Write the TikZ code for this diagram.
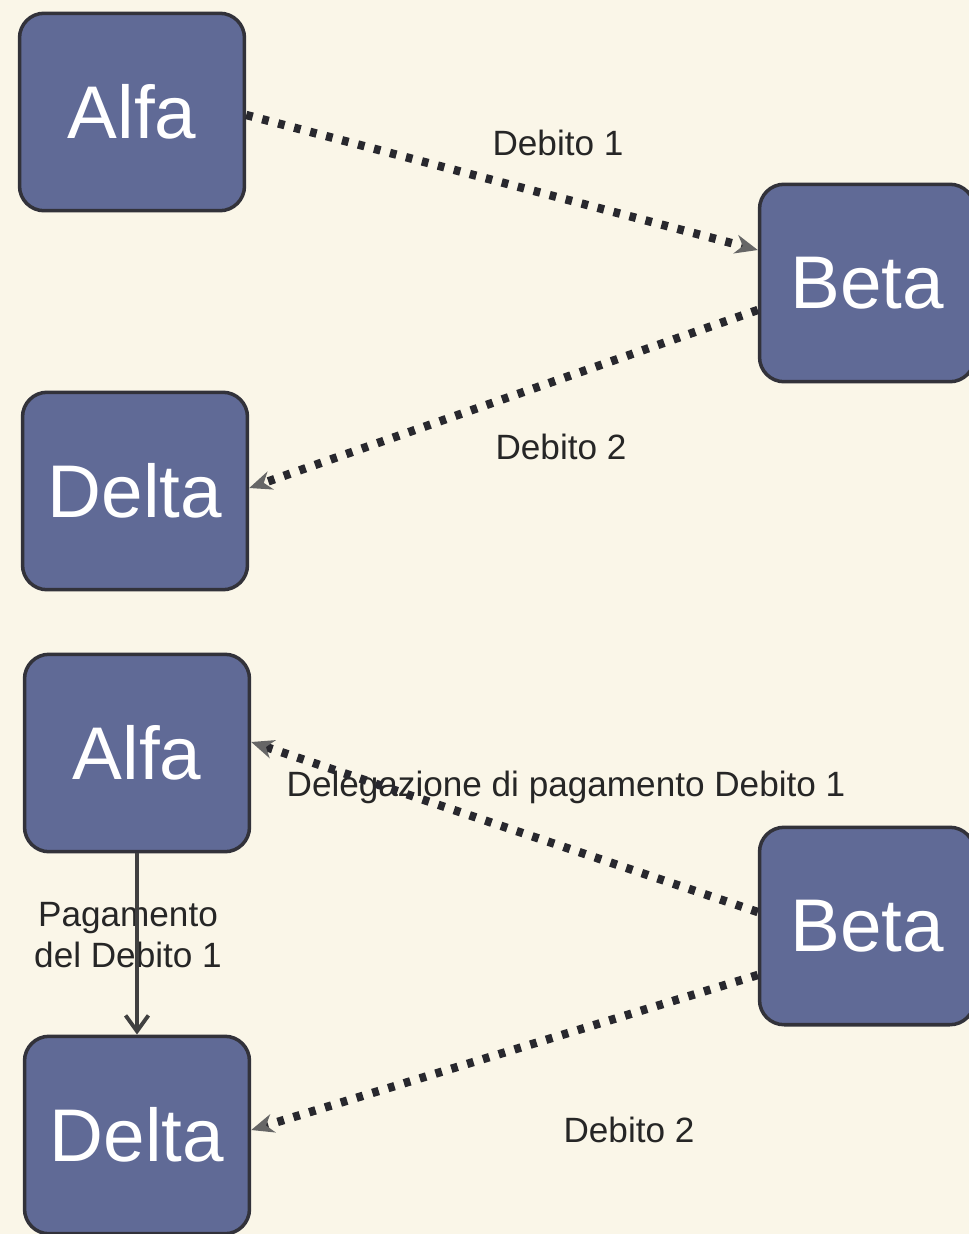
\documentclass[tikz,border=0pt]{standalone}
\usepackage{fontspec}
\setmainfont{Liberation Sans}
\usetikzlibrary{arrows.meta}
\definecolor{carta}{RGB}{250,246,232}
\definecolor{ardesia}{RGB}{96,106,150}
\definecolor{bordo}{RGB}{50,50,58}
\definecolor{puntini}{RGB}{40,40,46}

\begin{document}
\begin{tikzpicture}[x=0.02cm, y=-0.02cm,
    soggetto/.style={draw=bordo, line width=2pt, fill=ardesia, rounded corners=14pt,
        minimum width=4.5cm, minimum height=3.95cm, text=white,
        font=\fontsize{42.5}{46}\selectfont},
    etichetta/.style={text=black!85, font=\fontsize{20}{23}\selectfont},
    debito/.style={draw=puntini, line width=4.8pt, dash pattern=on 3.8pt off 5.6pt,
        -{Stealth[length=13pt, width=11pt, fill=black!60, line width=0pt]}},
    pagamento/.style={draw=black!75, line width=2.2pt, -{Straight Barb[length=9pt, width=13pt]}}]
    \clip (0,0) rectangle (969,1234);
    \fill[carta] (0,0) rectangle (969,1234);
    % Prima situazione
    \node[soggetto] (alfaA) at (132,112) {Alfa};
    \node[soggetto, minimum width=4.3cm] (betaA) at (867,283) {Beta};
    \node[soggetto] (deltaA) at (135,491) {Delta};
    \node[etichetta] (debUno) at (558,143) {Debito 1};
    \node[etichetta] (debDue) at (561,447) {Debito 2};
    \draw[debito] (alfaA.east |- 0,115) -- (betaA.west |- 0,250);
    \draw[debito] (betaA.west |- 0,310) -- (deltaA.east |- 0,488);
    % Seconda situazione
    \node[soggetto] (alfaB) at (137,753) {Alfa};
    \node[soggetto, minimum width=4.3cm] (betaB) at (867,926) {Beta};
    \node[soggetto] (deltaB) at (137,1135) {Delta};
    \node[etichetta] (delega) at (566,787) {Delegazione di pagamento Debito 1};
    \node[etichetta] (debDueB) at (629,1130) {Debito 2};
    \node[etichetta, align=center] (paga) at (128,935) {Pagamento\\del Debito 1};
    \draw[debito] (betaB.west |- 0,912) -- (alfaB.east |- 0,742);
    \draw[debito] (betaB.west |- 0,975) -- (deltaB.east |- 0,1130);
    \draw[pagamento] (alfaB.south) -- (deltaB.north);
\end{tikzpicture}
\end{document}
